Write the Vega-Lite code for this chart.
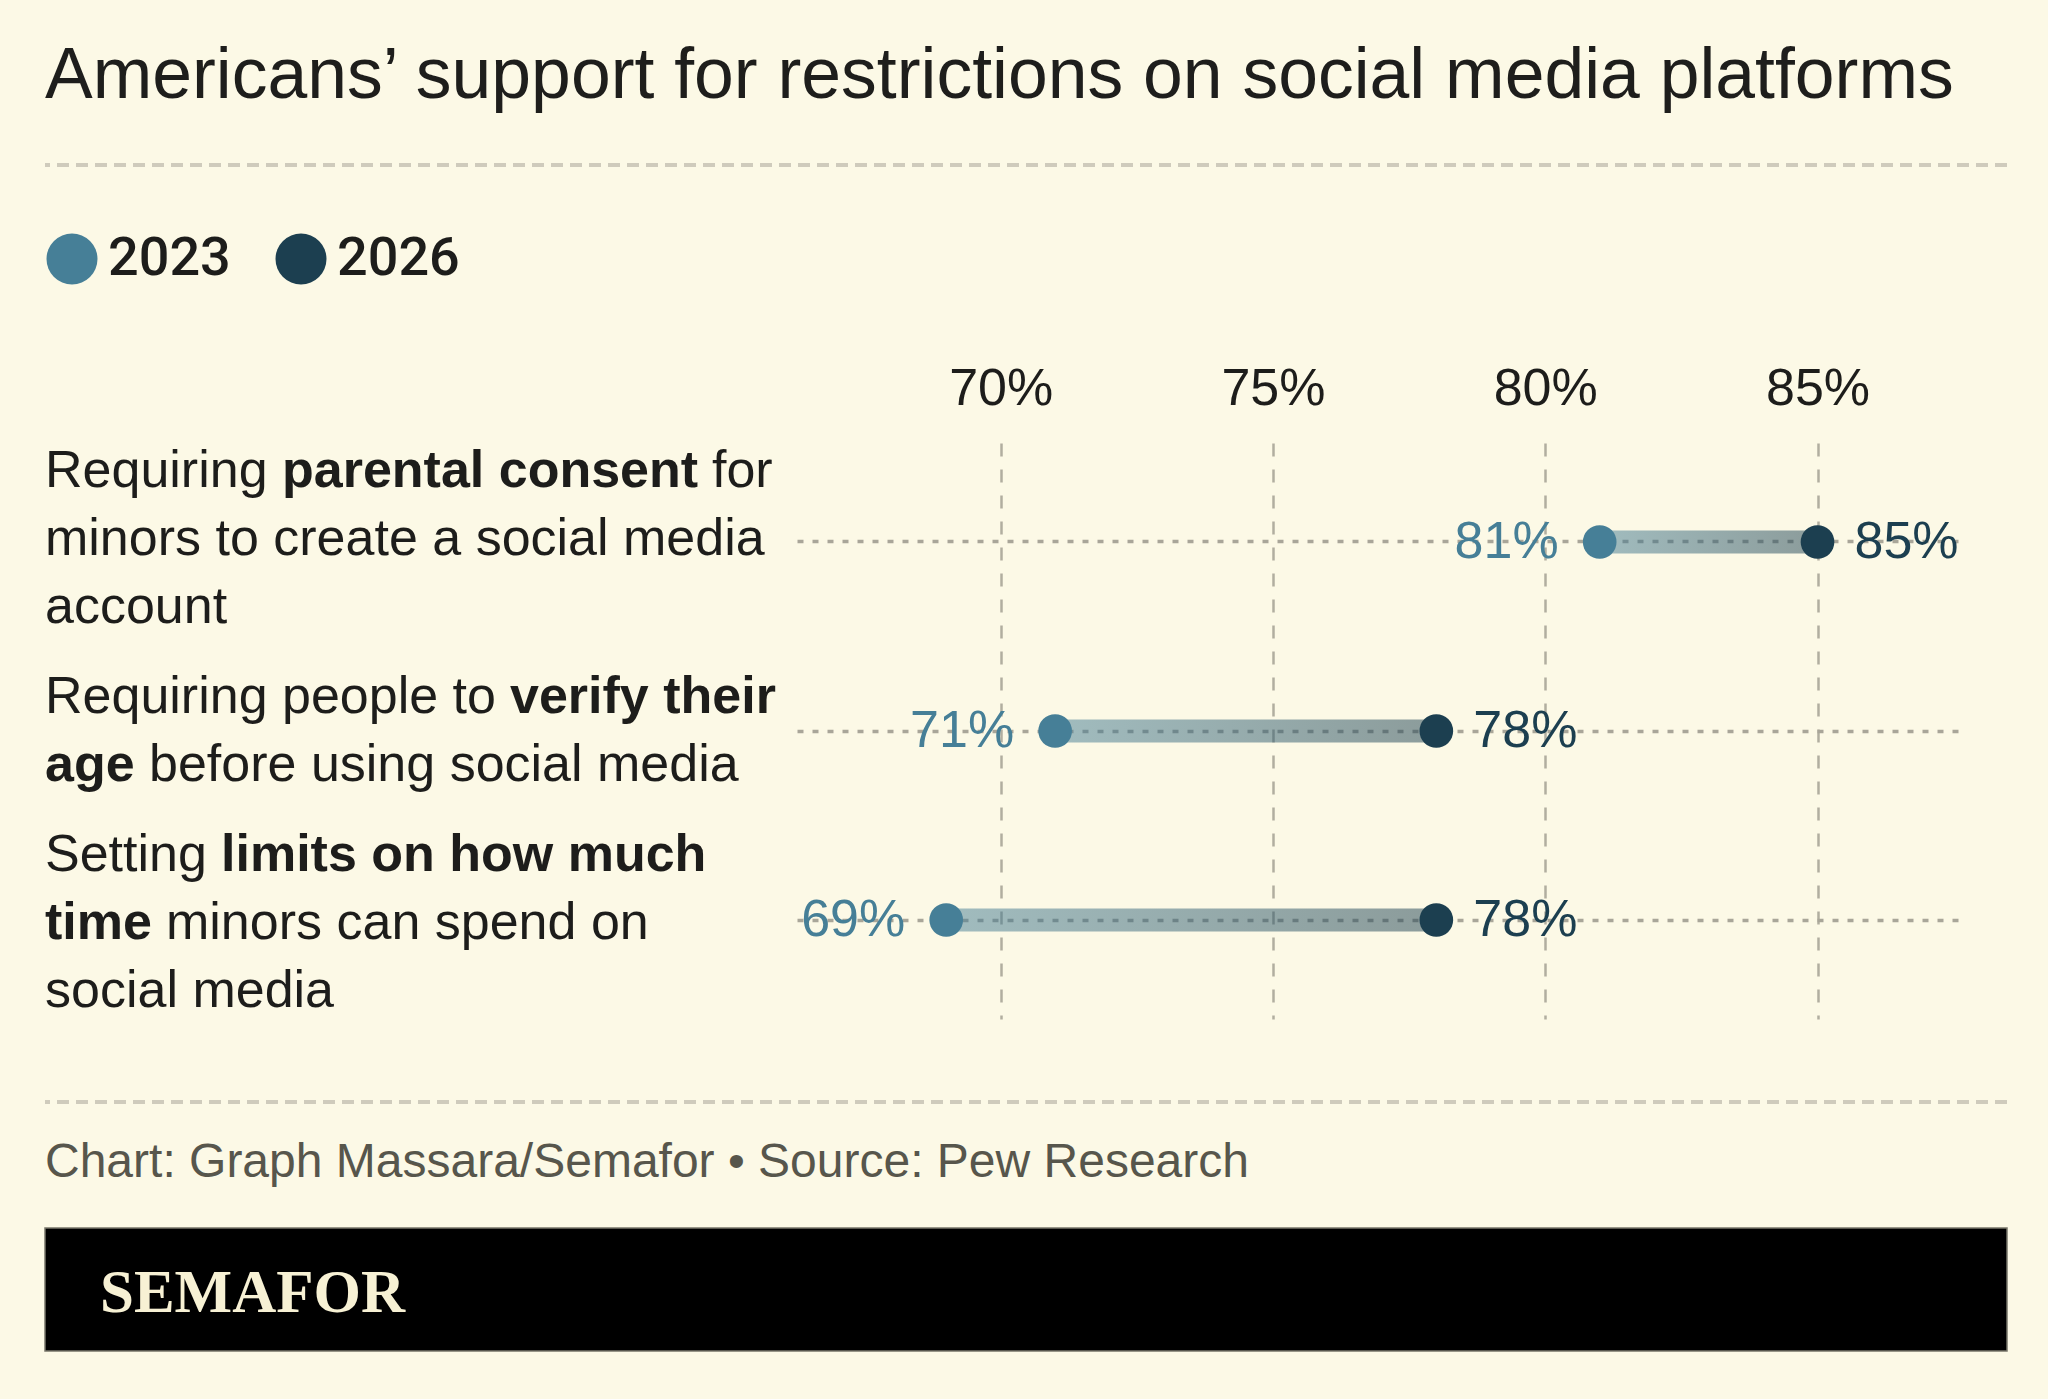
{
  "$schema": "https://vega.github.io/schema/vega-lite/v6.json",
  "background": "#fcf9e6",
  "padding": {"left": 43, "right": 43, "top": 40, "bottom": 47},
  "autosize": {"type": "pad"},
  "config": {
    "view": {"stroke": null},
    "font": "Liberation Sans"
  },
  "datasets": {
    "support": [
      {"item": "Parental consent", "year": "2023", "pct": 0.81},
      {"item": "Parental consent", "year": "2026", "pct": 0.85},
      {"item": "Age verification", "year": "2023", "pct": 0.71},
      {"item": "Age verification", "year": "2026", "pct": 0.78},
      {"item": "Time limits", "year": "2023", "pct": 0.69},
      {"item": "Time limits", "year": "2026", "pct": 0.78}
    ],
    "labels": [
      {"item": "Parental consent", "first": "Requiring\nminors to create a social media\naccount", "bold": "parental consent", "after": "for"},
      {"item": "Age verification", "first": "Requiring people to", "bold": "verify their", "bold2": "age", "after2": "before using social media"},
      {"item": "Time limits", "first": "Setting", "bold": "limits on how much", "bold2": "time", "after2": "minors can spend on", "last": "social media"}
    ],
    "blank": [{}]
  },
  "spacing": 81,
  "vconcat": [
    {
      "spacing": 0,
      "vconcat": [
        {
          "width": 1962,
          "height": 197,
          "data": {"name": "blank"},
          "title": {
            "text": "Americans’ support for restrictions on social media platforms",
            "orient": "top",
            "anchor": "start",
            "frame": "group",
            "font": "Liberation Sans",
            "fontSize": 71.5,
            "fontWeight": "normal",
            "color": "#1e1e1c",
            "baseline": "alphabetic",
            "offset": -6
          },
          "mark": {"type": "rule", "stroke": "#cfcbbc", "strokeWidth": 4, "strokeDash": [12, 7]},
          "encoding": {
            "y": {"datum": 1, "type": "quantitative", "scale": {"domain": [0, 1]}, "axis": null}
          }
        },
        {
          "spacing": 12,
          "bounds": "flush",
          "hconcat": [
            {
              "width": 740,
              "height": 576,
              "data": {"name": "labels"},
              "encoding": {
                "y": {
                  "field": "item",
                  "type": "nominal",
                  "sort": ["Parental consent", "Age verification", "Time limits"],
                  "scale": {"paddingInner": 0, "paddingOuter": 0.0238},
                  "axis": null
                },
                "x": {"datum": 0, "type": "quantitative", "scale": {"domain": [0, 1]}, "axis": null}
              },
              "layer": [
                {
                  "transform": [{"filter": "datum.item !== 'Age verification'"}],
                  "mark": {"type": "text", "align": "left", "baseline": "middle", "fontSize": 52, "lineHeight": 68, "lineBreak": "\n", "color": "#1d1d1b", "font": "Liberation Sans", "fontWeight": "normal", "dy": -68},
                  "encoding": {"text": {"field": "first", "type": "nominal"}}
                },
                {
                  "transform": [{"filter": "datum.item === 'Parental consent'"}],
                  "mark": {"type": "text", "align": "left", "baseline": "middle", "fontSize": 52, "color": "#1d1d1b", "font": "Liberation Sans", "fontWeight": "bold", "dx": 237, "dy": -68},
                  "encoding": {"text": {"field": "bold", "type": "nominal"}}
                },
                {
                  "transform": [{"filter": "datum.item === 'Parental consent'"}],
                  "mark": {"type": "text", "align": "left", "baseline": "middle", "fontSize": 52, "color": "#1d1d1b", "font": "Liberation Sans", "fontWeight": "normal", "dx": 667, "dy": -68},
                  "encoding": {"text": {"field": "after", "type": "nominal"}}
                },
                {
                  "transform": [{"filter": "datum.item === 'Age verification'"}],
                  "mark": {"type": "text", "align": "left", "baseline": "middle", "fontSize": 52, "color": "#1d1d1b", "font": "Liberation Sans", "fontWeight": "normal", "dy": -34},
                  "encoding": {"text": {"field": "first", "type": "nominal"}}
                },
                {
                  "transform": [{"filter": "datum.item === 'Age verification'"}],
                  "mark": {"type": "text", "align": "left", "baseline": "middle", "fontSize": 52, "color": "#1d1d1b", "font": "Liberation Sans", "fontWeight": "bold", "dx": 465, "dy": -34},
                  "encoding": {"text": {"field": "bold", "type": "nominal"}}
                },
                {
                  "transform": [{"filter": "datum.item === 'Age verification'"}],
                  "mark": {"type": "text", "align": "left", "baseline": "middle", "fontSize": 52, "color": "#1d1d1b", "font": "Liberation Sans", "fontWeight": "bold", "dy": 34},
                  "encoding": {"text": {"field": "bold2", "type": "nominal"}}
                },
                {
                  "transform": [{"filter": "datum.item === 'Age verification'"}],
                  "mark": {"type": "text", "align": "left", "baseline": "middle", "fontSize": 52, "color": "#1d1d1b", "font": "Liberation Sans", "fontWeight": "normal", "dx": 104, "dy": 34},
                  "encoding": {"text": {"field": "after2", "type": "nominal"}}
                },
                {
                  "transform": [{"filter": "datum.item === 'Time limits'"}],
                  "mark": {"type": "text", "align": "left", "baseline": "middle", "fontSize": 52, "color": "#1d1d1b", "font": "Liberation Sans", "fontWeight": "bold", "dx": 176, "dy": -68},
                  "encoding": {"text": {"field": "bold", "type": "nominal"}}
                },
                {
                  "transform": [{"filter": "datum.item === 'Time limits'"}],
                  "mark": {"type": "text", "align": "left", "baseline": "middle", "fontSize": 52, "color": "#1d1d1b", "font": "Liberation Sans", "fontWeight": "bold"},
                  "encoding": {"text": {"field": "bold2", "type": "nominal"}}
                },
                {
                  "transform": [{"filter": "datum.item === 'Time limits'"}],
                  "mark": {"type": "text", "align": "left", "baseline": "middle", "fontSize": 52, "color": "#1d1d1b", "font": "Liberation Sans", "fontWeight": "normal", "dx": 121},
                  "encoding": {"text": {"field": "after2", "type": "nominal"}}
                },
                {
                  "transform": [{"filter": "datum.item === 'Time limits'"}],
                  "mark": {"type": "text", "align": "left", "baseline": "middle", "fontSize": 52, "color": "#1d1d1b", "font": "Liberation Sans", "fontWeight": "normal", "dy": 68},
                  "encoding": {"text": {"field": "last", "type": "nominal"}}
                }
              ]
            },
            {
              "width": 1170,
              "height": 576,
              "data": {"name": "support"},
              "encoding": {
                "y": {
                  "field": "item",
                  "type": "nominal",
                  "sort": ["Parental consent", "Age verification", "Time limits"],
                  "scale": {"paddingInner": 0, "paddingOuter": 0.0238},
                  "axis": {
                    "grid": true,
                    "bandPosition": 0.5,
                    "labels": false,
                    "ticks": false,
                    "domain": false,
                    "title": null,
                    "gridColor": "#a9a699",
                    "gridWidth": 3.5,
                    "gridDash": [6, 9]
                  }
                }
              },
              "layer": [
                {
                  "transform": [{"pivot": "year", "value": "pct", "groupby": ["item"]}],
                  "mark": {
                    "type": "bar",
                    "height": 23,
                    "fill": {
                      "gradient": "linear",
                      "x1": 0, "y1": 0, "x2": 1, "y2": 0,
                      "stops": [
                        {"offset": 0, "color": "#467f97"},
                        {"offset": 1, "color": "#1c3f50"}
                      ]
                    },
                    "fillOpacity": 0.5
                  },
                  "encoding": {
                    "x": {
                      "field": "2023",
                      "type": "quantitative",
                      "title": null,
                      "scale": {"domain": [0.6626, 0.87745], "nice": false, "zero": false},
                      "axis": {
                        "orient": "top",
                        "values": [0.7, 0.75, 0.8, 0.85],
                        "format": ".0%",
                        "grid": true,
                        "gridColor": "#b1aea0",
                        "gridWidth": 2.5,
                        "gridDash": [13, 13],
                        "domain": false,
                        "ticks": false,
                        "tickSize": 0,
                        "labelFont": "Liberation Sans",
                        "labelFontSize": 52,
                        "labelColor": "#1d1d1b",
                        "labelPadding": 39,
                        "labelBaseline": "alphabetic",
                        "title": null
                      }
                    },
                    "x2": {"field": "2026"}
                  }
                },
                {
                  "mark": {"type": "circle", "size": 1134, "opacity": 1},
                  "encoding": {
                    "x": {"field": "pct", "type": "quantitative", "title": null},
                    "color": {
                      "field": "year",
                      "type": "nominal",
                      "scale": {"domain": ["2023", "2026"], "range": ["#467f97", "#1c3f50"]},
                      "legend": {
                        "orient": "none",
                        "legendX": 0,
                        "legendY": 67,
                        "direction": "horizontal",
                        "title": null,
                        "symbolType": "circle",
                        "symbolSize": 2600,
                        "symbolStrokeWidth": 0,
                        "symbolOpacity": 1,
                        "labelFont": "Roboto",
                        "labelFontSize": 54,
                        "labelFontWeight": 500,
                        "labelColor": "#1d1d1b",
                        "labelOffset": 9,
                        "columnPadding": 43,
                        "padding": 0
                      }
                    }
                  }
                },
                {
                  "transform": [{"filter": "datum.year === '2023'"}],
                  "mark": {"type": "text", "align": "right", "baseline": "middle", "dx": -41, "fontSize": 52, "font": "Liberation Sans", "color": "#467f97"},
                  "encoding": {
                    "x": {"field": "pct", "type": "quantitative", "title": null},
                    "text": {"field": "pct", "type": "quantitative", "format": ".0%"}
                  }
                },
                {
                  "transform": [{"filter": "datum.year === '2026'"}],
                  "mark": {"type": "text", "align": "left", "baseline": "middle", "dx": 37, "fontSize": 52, "font": "Liberation Sans", "color": "#1c3f50"},
                  "encoding": {
                    "x": {"field": "pct", "type": "quantitative", "title": null},
                    "text": {"field": "pct", "type": "quantitative", "format": ".0%"}
                  }
                }
              ]
            }
          ]
        }
      ]
    },
    {
      "spacing": 40,
      "vconcat": [
        {
          "width": 1962,
          "height": 1,
          "data": {"name": "blank"},
          "title": {
            "text": "Chart: Graph Massara/Semafor • Source: Pew Research",
            "orient": "bottom",
            "anchor": "start",
            "frame": "group",
            "font": "Liberation Sans",
            "fontSize": 48,
            "fontWeight": "normal",
            "color": "#57564c",
            "baseline": "alphabetic",
            "offset": 73
          },
          "mark": {"type": "rule", "stroke": "#cfcbbc", "strokeWidth": 4, "strokeDash": [12, 7]},
          "encoding": {
            "y": {"datum": 1, "type": "quantitative", "scale": {"domain": [0, 1]}, "axis": null}
          }
        },
        {
          "width": 1962,
          "height": 123,
          "data": {"name": "blank"},
          "title": {
            "text": "SEMAFOR",
            "orient": "top",
            "anchor": "start",
            "frame": "group",
            "font": "Liberation Serif",
            "fontSize": 61,
            "fontWeight": "bold",
            "color": "#f7f1d4",
            "baseline": "alphabetic",
            "offset": -146,
            "dx": 55
          },
          "mark": {"type": "rect", "fill": "#000000", "stroke": "#77756a", "strokeWidth": 1.5},
          "encoding": {
            "x": {"datum": 0, "type": "quantitative", "scale": {"domain": [0, 1]}, "axis": null},
            "x2": {"datum": 1},
            "y": {"datum": 0, "type": "quantitative", "scale": {"domain": [0, 1]}, "axis": null},
            "y2": {"datum": 1}
          }
        }
      ]
    }
  ]
}
